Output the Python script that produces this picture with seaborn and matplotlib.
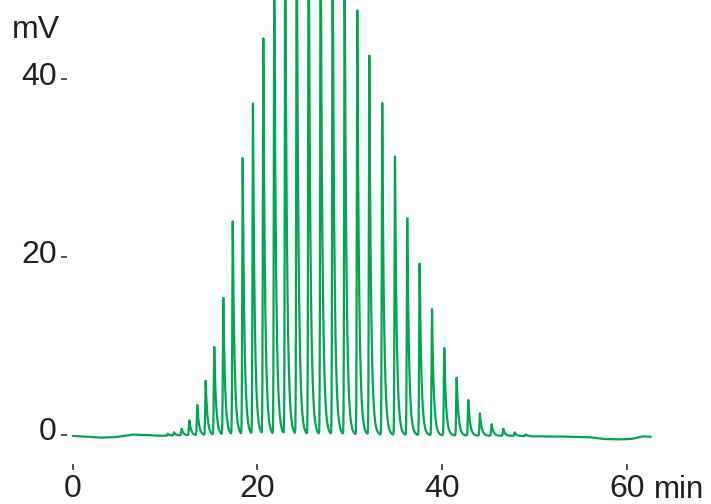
import numpy as np
import pandas as pd
import seaborn as sns
import matplotlib
from matplotlib import pyplot as plt
from matplotlib.transforms import ScaledTranslation
matplotlib.use("Agg")

# Peak retention times (min) and heights (mV)
peak_time = [10.29, 10.97, 11.80, 12.63, 13.49, 14.40, 15.33, 16.31, 17.33, 18.41,
             19.52, 20.64, 21.83, 23.02, 24.26, 25.55, 26.85, 28.15, 29.45, 30.82,
             32.12, 33.52, 34.90, 36.23, 37.57, 38.91, 40.24, 41.58, 42.84, 44.10,
             45.37, 46.63, 47.86, 49.05]
peak_height = [0.2, 0.35, 0.75, 1.7, 3.4, 6.1, 9.9, 15.4, 24.0, 31.1,
               37.2, 44.5, 52.0, 57.0, 60.0, 61.0, 60.0, 57.0, 53.0, 47.7,
               42.6, 37.3, 31.3, 24.4, 19.3, 14.2, 9.8, 6.5, 4.0, 2.5,
               1.3, 0.8, 0.4, 0.2]

# Baseline drift (mV) read at a few retention times
baseline_time = [0, 1.5, 3, 4.5, 6, 6.5, 8, 9.5, 11, 30, 48, 50, 52, 54, 56, 57.5, 59, 60.5, 61.7, 62.6]
baseline_level = [-0.1, -0.2, -0.3, -0.25, -0.05, 0.05, 0.0, -0.1, -0.05, 0.0,
                  -0.1, -0.15, -0.15, -0.2, -0.25, -0.45, -0.5, -0.45, -0.15, -0.2]

x_ticks = [0, 20, 40, 60]
y_ticks = [0, 20, 40]

GREEN = "#00a651"
INK = "#231f20"


def build_trace(rise=0.05, tail=0.19, end=62.6):
    t = np.arange(0, end, 0.004)
    signal = np.interp(t, baseline_time, baseline_level)
    for t0, h in zip(peak_time, peak_height):
        d = t - t0
        front = np.exp(-0.5 * (np.clip(d, None, 0) / rise) ** 2)
        back = np.exp(-np.clip(d, 0, None) / tail)
        signal += h * np.where(d < 0, front, back)
    return pd.DataFrame({"time": t, "signal": signal})


sns.set_style("white")
plt.rcParams["font.family"] = ["Liberation Sans", "DejaVu Sans"]

df = build_trace()

fig = plt.figure(figsize=(7.11, 5.04), dpi=100)
ax = fig.add_axes([67 / 711, 40 / 504, 593 / 711, 464 / 504])
sns.lineplot(data=df, x="time", y="signal", color=GREEN, linewidth=1.6,
             estimator=None, sort=False, ax=ax)

ax.set_xlim(-0.62, 63.6)
ax.set_ylim(-3.26, 48.9)
ax.set_xticks(x_ticks)
ax.set_yticks(y_ticks)
ax.set_xlabel("")
ax.set_ylabel("")
for side in ["top", "right", "bottom", "left"]:
    ax.spines[side].set_visible(False)
ax.tick_params(axis="both", direction="out", length=4.5, width=1.1, color=INK,
               labelcolor=INK, labelsize=23, pad=3)
ax.tick_params(axis="y", left=True)
ax.tick_params(axis="x", bottom=True)

# y labels sit a bit above their tick marks in the original
for lab in ax.get_yticklabels():
    lab.set_transform(lab.get_transform() + ScaledTranslation(0, 0.06, fig.dpi_scale_trans))

fig.text(12 / 711, (504 - 38) / 504, "mV", fontsize=23, color=INK, ha="left", va="baseline")
fig.text(654 / 711, (504 - 498) / 504, "min", fontsize=22.5, color=INK, ha="left", va="baseline")

plt.savefig("out.png", dpi=100)
plt.close()
